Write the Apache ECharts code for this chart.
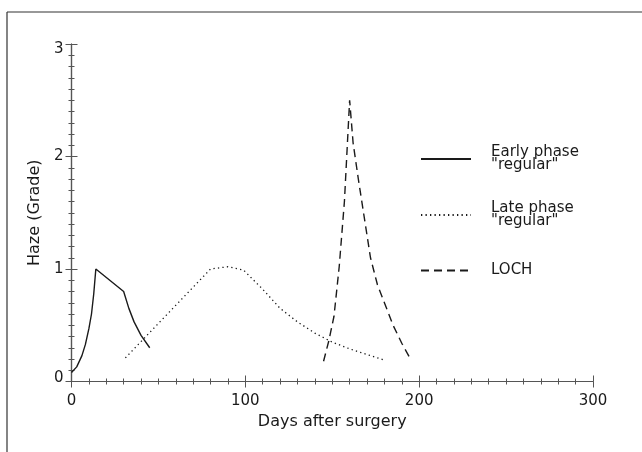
<!DOCTYPE html>
<html>
<head>
<meta charset="utf-8">
<script src="https://cdn.jsdelivr.net/npm/echarts@6/dist/echarts.min.js"></script>
<style>html,body{margin:0;padding:0;background:#fff}#c{width:642px;height:452px}</style>
</head>
<body>
<div id="c"></div>
<script>
// Early phase "regular" (solid)
const earlyDays = [0, 3, 6, 8, 10, 11.5, 12.8, 14, 30, 33, 36, 40, 45];
const earlyHaze = [0.08, 0.13, 0.23, 0.33, 0.47, 0.6, 0.78, 1.0, 0.8, 0.65, 0.53, 0.41, 0.3];
// Late phase "regular" (dotted)
const lateDays = [31, 80, 90, 99, 110, 120, 130, 140, 150, 160, 170, 180];
const lateHaze = [0.21, 1.0, 1.02, 0.99, 0.82, 0.65, 0.53, 0.43, 0.35, 0.29, 0.24, 0.19];
// LOCH (dashed)
const lochDays = [145, 148, 151, 154, 157, 159, 160, 162, 165, 168, 172, 176, 180, 185, 190, 195];
const lochHaze = [0.18, 0.36, 0.58, 1.02, 1.6, 2.2, 2.5, 2.12, 1.8, 1.5, 1.1, 0.86, 0.7, 0.5, 0.34, 0.2];
// Axis ticks
const xTicks = [0, 100, 200, 300];
const yTicks = [0, 1, 2, 3];
const seriesNames = ['Early phase\n"regular"', 'Late phase\n"regular"', 'LOCH'];

const pair = (xs, ys) => xs.map((x, i) => [x, ys[i]]);
const font = 'DejaVu Sans';
const ink = '#1a1a1a';
const axisCol = '#555';

const chart = echarts.init(document.getElementById('c'), null, {renderer: 'canvas'});

const baseAxis = {
  axisLine: {show: true, lineStyle: {color: axisCol, width: 1.2}},
  axisTick: {show: true, inside: true, length: 6, lineStyle: {color: axisCol}},
  minorTick: {show: true, splitNumber: 10, length: 3, lineStyle: {color: axisCol}},
  splitLine: {show: false},
  minorSplitLine: {show: false}
};

const legendCommon = {
  orient: 'vertical', left: 420, padding: 0, itemWidth: 50, itemHeight: 12,
  itemStyle: {opacity: 0},
  textStyle: {fontFamily: font, fontSize: 15, color: ink, lineHeight: 13, padding: [0, 0, 0, 15]},
  selectedMode: false
};

chart.setOption({
  animation: false,
  backgroundColor: '#fff',
  grid: {left: 71.5, right: 49, top: 44, bottom: 70.5, containLabel: false},
  xAxis: [
    Object.assign({}, baseAxis, {
      type: 'value', min: xTicks[0], max: xTicks[xTicks.length - 1], interval: 100,
      position: 'bottom',
      name: 'Days after surgery', nameLocation: 'middle', nameGap: 31,
      nameTextStyle: {fontFamily: font, fontSize: 16, color: ink},
      axisLabel: {fontFamily: font, fontSize: 15, color: ink, margin: 12}
    }),
    Object.assign({}, baseAxis, {
      type: 'value', min: xTicks[0], max: xTicks[xTicks.length - 1], interval: 100,
      position: 'top', axisLabel: {show: false}
    })
  ],
  yAxis: [
    Object.assign({}, baseAxis, {
      type: 'value', min: yTicks[0], max: yTicks[yTicks.length - 1], interval: 1,
      position: 'left',
      name: 'Haze (Grade)', nameLocation: 'middle', nameGap: 26,
      nameTextStyle: {fontFamily: font, fontSize: 16, color: ink},
      axisLabel: {
        fontFamily: font, fontSize: 15, color: ink, margin: 8,
        formatter: v => v === yTicks[yTicks.length - 1] ? '{t|' + v + '}' : (v === yTicks[0] ? '{b|' + v + '}' : String(v)),
        rich: {
          t: {fontFamily: font, fontSize: 15, color: ink, padding: [10, 0, 0, 0]},
          b: {fontFamily: font, fontSize: 15, color: ink, padding: [0, 0, 7, 0]}
        }
      }
    }),
    Object.assign({}, baseAxis, {
      type: 'value', min: yTicks[0], max: yTicks[yTicks.length - 1], interval: 1,
      position: 'right', axisLabel: {show: false}
    })
  ],
  legend: [
    Object.assign({}, legendCommon, {top: 145, data: [seriesNames[0]]}),
    Object.assign({}, legendCommon, {top: 201, data: [seriesNames[1]]}),
    Object.assign({}, legendCommon, {top: 263, data: [seriesNames[2]]})
  ],
  series: [
    {name: seriesNames[0], type: 'line', data: pair(earlyDays, earlyHaze), symbol: 'none',
     lineStyle: {color: ink, width: 1.4, type: 'solid'}, itemStyle: {color: ink}},
    {name: seriesNames[1], type: 'line', data: pair(lateDays, lateHaze), symbol: 'none',
     lineStyle: {color: ink, width: 1.3, type: [1.3, 3.2]}, itemStyle: {color: ink}},
    {name: seriesNames[2], type: 'line', data: pair(lochDays, lochHaze), symbol: 'none',
     lineStyle: {color: ink, width: 1.4, type: [8, 5]}, itemStyle: {color: ink}}
  ],
  graphic: [
    {type: 'line', shape: {x1: 7, y1: 12, x2: 642, y2: 12}, style: {stroke: '#333', lineWidth: 1.2}},
    {type: 'line', shape: {x1: 7, y1: 12, x2: 7, y2: 452}, style: {stroke: '#333', lineWidth: 1.2}}
  ]
});
</script>
</body>
</html>
